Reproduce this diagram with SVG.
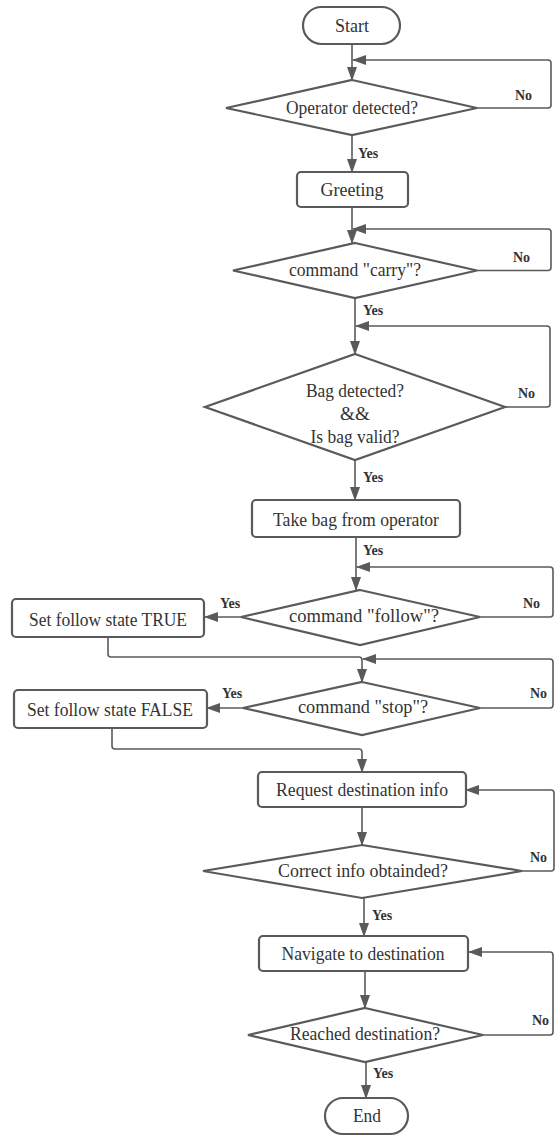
<svg xmlns="http://www.w3.org/2000/svg" width="555" height="1136" viewBox="0 0 555 1136">
<defs>
<marker id="arr" markerUnits="userSpaceOnUse" markerWidth="14" markerHeight="10" refX="13" refY="5" orient="auto">
<path d="M0,0 L14,5 L0,10 z" fill="#5a5a5a"/>
</marker>
<style>
.shape{fill:#fff;stroke:#5a5a5a;stroke-width:2.2}
.t{font-family:"Liberation Serif","Times New Roman",serif;font-size:19px;fill:#333;text-anchor:middle}
.lbl{font-family:"Liberation Serif","Times New Roman",serif;font-size:14px;font-weight:bold;fill:#333}
.c{fill:none;stroke:#5a5a5a;stroke-width:1.6;marker-end:url(#arr)}
</style>
</defs>
<rect width="555" height="1136" fill="#fff"/>
<g id="connectors">
<path class="c" d="M352,44 V80"/>
<path class="c" d="M477,108 H548 Q551,108 551,105 V63 Q551,60 548,60 H353"/>
<path class="c" d="M352,135 V172"/>
<path class="c" d="M352,207 V243"/>
<path class="c" d="M477,270.5 H548 Q551,270.5 551,267.5 V232 Q551,229 548,229 H353"/>
<path class="c" d="M355,298 V354"/>
<path class="c" d="M505,407 H547 Q550,407 550,404 V329 Q550,326 547,326 H356"/>
<path class="c" d="M355,460 V500"/>
<path class="c" d="M356,537 V590"/>
<path class="c" d="M480,617 H550 Q553,617 553,614 V570 Q553,567 550,567 H357"/>
<path class="c" d="M241,617 H205"/>
<path class="c" d="M108,637 V654 Q108,657 111,657 H359 Q362,657 362,660 V682"/>
<path class="c" d="M480,708 H550 Q553,708 553,705 V662 Q553,659 550,659 H363"/>
<path class="c" d="M243,708 H207"/>
<path class="c" d="M112,728 V746 Q112,749 115,749 H359 Q362,749 362,752 V772"/>
<path class="c" d="M362,807 V845"/>
<path class="c" d="M522,871 H551 Q554,871 554,868 V793 Q554,790 551,790 H466"/>
<path class="c" d="M364,898 V936"/>
<path class="c" d="M365,971 V1008"/>
<path class="c" d="M483,1035 H550 Q553,1035 553,1032 V955 Q553,952 550,952 H469"/>
<path class="c" d="M366,1062 V1098"/>
<text class="lbl" x="515" y="100">No</text>
<text class="lbl" x="358" y="158">Yes</text>
<text class="lbl" x="513" y="262">No</text>
<text class="lbl" x="363" y="315">Yes</text>
<text class="lbl" x="518" y="398">No</text>
<text class="lbl" x="363" y="482">Yes</text>
<text class="lbl" x="363" y="555">Yes</text>
<text class="lbl" x="523" y="608">No</text>
<text class="lbl" x="220" y="608">Yes</text>
<text class="lbl" x="530" y="698">No</text>
<text class="lbl" x="222" y="698">Yes</text>
<text class="lbl" x="530" y="862">No</text>
<text class="lbl" x="372" y="920">Yes</text>
<text class="lbl" x="532" y="1025">No</text>
<text class="lbl" x="373" y="1078">Yes</text>
</g>
<g id="start">
<rect class="shape" x="303" y="7" width="97" height="37" rx="18.5"/>
<text class="t" x="352" y="32" textLength="34" lengthAdjust="spacingAndGlyphs">Start</text>
</g>
<g id="operator">
<polygon class="shape" points="352,80 477,108 352,135 226,108"/>
<text class="t" x="352" y="114" textLength="132" lengthAdjust="spacingAndGlyphs">Operator detected?</text>
</g>
<g id="greeting">
<rect class="shape" x="297" y="172" width="111" height="35" rx="4"/>
<text class="t" x="352" y="196" textLength="63" lengthAdjust="spacingAndGlyphs">Greeting</text>
</g>
<g id="carry">
<polygon class="shape" points="355,243 477,270.5 355,298 233,270.5"/>
<text class="t" x="355" y="276" textLength="132" lengthAdjust="spacingAndGlyphs">command "carry"?</text>
</g>
<g id="bag">
<polygon class="shape" points="355,354 505,407 355,460 205,407"/>
<text class="t" x="355" y="397" textLength="98" lengthAdjust="spacingAndGlyphs">Bag detected?</text>
<text class="t" x="355" y="420" textLength="30" lengthAdjust="spacingAndGlyphs">&amp;&amp;</text>
<text class="t" x="355" y="443" textLength="89" lengthAdjust="spacingAndGlyphs">Is bag valid?</text>
</g>
<g id="takebag">
<rect class="shape" x="252" y="500" width="208" height="37" rx="4"/>
<text class="t" x="356" y="526" textLength="166" lengthAdjust="spacingAndGlyphs">Take bag from operator</text>
</g>
<g id="follow">
<polygon class="shape" points="360,590 480,617 360,645 241,617"/>
<text class="t" x="364" y="622" textLength="150" lengthAdjust="spacingAndGlyphs">command "follow"?</text>
</g>
<g id="settrue">
<rect class="shape" x="12" y="599" width="192" height="38" rx="4"/>
<text class="t" x="108" y="626" textLength="158" lengthAdjust="spacingAndGlyphs">Set follow state TRUE</text>
</g>
<g id="stop">
<polygon class="shape" points="362,682 480,708 362,735 243,708"/>
<text class="t" x="363" y="713" textLength="130" lengthAdjust="spacingAndGlyphs">command "stop"?</text>
</g>
<g id="setfalse">
<rect class="shape" x="14" y="690" width="193" height="38" rx="4"/>
<text class="t" x="110" y="716" textLength="166" lengthAdjust="spacingAndGlyphs">Set follow state FALSE</text>
</g>
<g id="request">
<rect class="shape" x="258" y="772" width="208" height="35" rx="4"/>
<text class="t" x="362" y="796" textLength="172" lengthAdjust="spacingAndGlyphs">Request destination info</text>
</g>
<g id="correct">
<polygon class="shape" points="362,845 522,871 362,898 203,871"/>
<text class="t" x="363" y="877" textLength="170" lengthAdjust="spacingAndGlyphs">Correct info obtainded?</text>
</g>
<g id="navigate">
<rect class="shape" x="259" y="936" width="209" height="35" rx="4"/>
<text class="t" x="363" y="960" textLength="163" lengthAdjust="spacingAndGlyphs">Navigate to destination</text>
</g>
<g id="reached">
<polygon class="shape" points="365,1008 483,1035 365,1062 248,1035"/>
<text class="t" x="365" y="1040" textLength="150" lengthAdjust="spacingAndGlyphs">Reached destination?</text>
</g>
<g id="end">
<rect class="shape" x="325" y="1098" width="83" height="36" rx="18"/>
<text class="t" x="367" y="1122" textLength="28" lengthAdjust="spacingAndGlyphs">End</text>
</g>
</svg>
